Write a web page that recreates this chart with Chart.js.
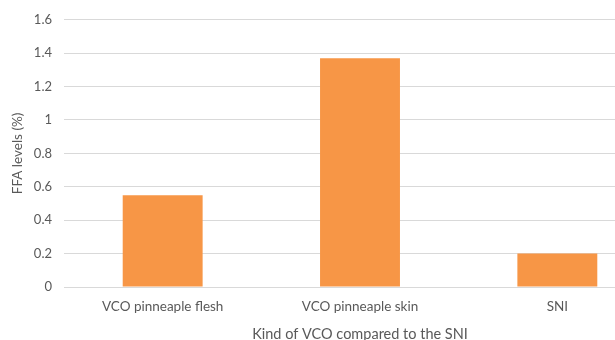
<!DOCTYPE html>
<html>
<head>
<meta charset="utf-8">
<script src="https://cdn.jsdelivr.net/npm/chart.js@4.4.1/dist/chart.umd.min.js"></script>
<style>
  html, body { margin: 0; padding: 0; background: #fff; overflow: hidden; }
  #wrap { position: relative; width: 660px; height: 340px; }
</style>
</head>
<body>
<div id="wrap"><canvas id="chart"></canvas></div>
<script>
// --- DATA ---
const categories = ['VCO pinneaple flesh', 'VCO pinneaple skin', 'SNI'];
const ffaValues = [0.55, 1.37, 0.2];
const yTickLabels = ['0', '0.2', '0.4', '0.6', '0.8', '1', '1.2', '1.4', '1.6'];

const textColor = '#595959';
const gridColor = '#d9d9d9';
const fontFamily = 'Lato, "Open Sans", sans-serif';

new Chart(document.getElementById('chart'), {
    type: 'bar',
    data: {
        labels: categories,
        datasets: [{
            data: ffaValues,
            backgroundColor: '#f79646',
            borderWidth: 0,
            categoryPercentage: 1,
            barPercentage: 0.405
        }]
    },
    options: {
        responsive: true,
        maintainAspectRatio: false,
        animation: false,
        layout: { padding: { top: 18, right: 4 } },
        plugins: { legend: { display: false }, tooltip: { enabled: false } },
        scales: {
            x: {
                grid: { display: false },
                border: { display: false },
                ticks: { color: textColor, font: { family: fontFamily, size: 13.5 }, padding: 4 },
                title: {
                    display: true,
                    text: 'Kind of VCO compared to the SNI',
                    color: textColor,
                    font: { family: fontFamily, size: 14.5 },
                    padding: { top: 0, bottom: -3 }
                },
                afterFit: (scale) => { scale.height = 53; }
            },
            y: {
                min: 0,
                max: 1.6,
                ticks: {
                    stepSize: 0.2,
                    color: textColor,
                    font: { family: fontFamily, size: 13 },
                    padding: 12,
                    callback: (value, index) => yTickLabels[index]
                },
                grid: { color: gridColor, lineWidth: 1, drawTicks: false },
                border: { display: false },
                title: {
                    display: true,
                    text: 'FFA levels (%)',
                    color: textColor,
                    font: { family: fontFamily, size: 13.5 },
                    padding: { top: 10, bottom: 0 }
                },
                afterFit: (scale) => { scale.width = 64; }
            }
        }
    }
});
</script>
</body>
</html>
